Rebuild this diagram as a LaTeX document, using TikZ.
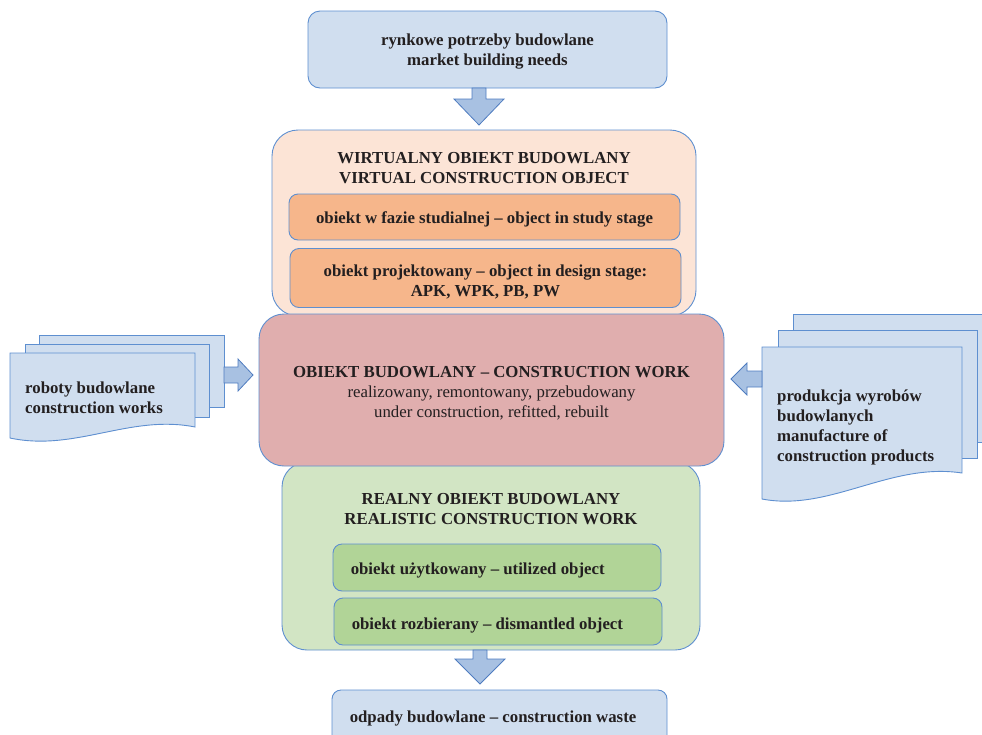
\documentclass[tikz,border=0pt]{standalone}
\usepackage{fontspec}
\setmainfont{Liberation Serif}
\usetikzlibrary{calc}

\definecolor{edgeblue}{HTML}{5E8FD0}
\definecolor{paleblue}{HTML}{D0DEEF}
\definecolor{arrowblue}{HTML}{A8C1E2}
\definecolor{arrowedge}{HTML}{4F7CC0}
\definecolor{peach}{HTML}{FCE4D6}
\definecolor{orangebox}{HTML}{F6B68B}
\definecolor{rosebox}{HTML}{E0AEAE}
\definecolor{palegreen}{HTML}{D2E5C4}
\definecolor{greenbox}{HTML}{B1D497}
\definecolor{ink}{HTML}{231F20}

\tikzset{
  box/.style={draw=edgeblue, line width=0.9pt, rectangle, inner sep=0pt},
  txt/.style={text=ink, inner sep=0pt, align=center,
    font=\fontsize{16.8}{20}\selectfont\bfseries},
  sheet/.style={draw=edgeblue, line width=0.9pt, fill=paleblue},
  blockarrow/.style={draw=arrowedge, line width=0.8pt, fill=arrowblue, line join=miter}
}

\begin{document}
\begin{tikzpicture}[x=1pt,y=-1pt]
\useasboundingbox (0,0) rectangle (982,734);

% market needs at the top
\node[box, fill=paleblue, rounded corners=12pt, minimum width=359pt, minimum height=77pt]
  (needs) at (487.5,49.5) {};
\node[txt] (needs-t) at ($(needs)+(0,2)$) {rynkowe potrzeby budowlane\\market building needs};

% virtual construction object
\node[box, fill=peach, rounded corners=26pt, minimum width=424pt, minimum height=186pt]
  (virtual) at (484,223) {};
\node[txt] (virtual-t) at (484,168)
  {WIRTUALNY OBIEKT BUDOWLANY\\VIRTUAL CONSTRUCTION OBJECT};
\node[box, fill=orangebox, rounded corners=9pt, minimum width=391pt, minimum height=46pt]
  (study) at (484.5,217) {};
\node[txt] (study-t) at ($(study)+(0,2)$) {obiekt w fazie studialnej – object in study stage};
\node[box, fill=orangebox, rounded corners=9pt, minimum width=391pt, minimum height=59pt]
  (design) at (485.5,278) {};
\node[txt] (design-t) at ($(design)+(0,3.5)$)
  {obiekt projektowany – object in design stage:\\APK, WPK, PB, PW};

% real construction work
\node[box, fill=palegreen, rounded corners=25pt, minimum width=418pt, minimum height=188pt]
  (real) at (491,556) {};
\node[txt] (real-t) at (491,509)
  {REALNY OBIEKT BUDOWLANY\\REALISTIC CONSTRUCTION WORK};
\node[box, fill=greenbox, rounded corners=9pt, minimum width=328pt, minimum height=47pt]
  (used) at (497,567.5) {};
\node[txt, anchor=west] (used-t) at ($(used.west)+(18,3)$) {obiekt użytkowany – utilized object};
\node[box, fill=greenbox, rounded corners=9pt, minimum width=328pt, minimum height=47pt]
  (dismantled) at (498,621.5) {};
\node[txt, anchor=west] (dismantled-t) at ($(dismantled.west)+(18,4)$)
  {obiekt rozbierany – dismantled object};

% construction work in the middle, on top of both
\node[box, fill=rosebox, rounded corners=25pt, minimum width=465pt, minimum height=152pt]
  (work) at (491.5,390) {};
\node[txt] (work-t) at ($(work)+(0,3)$)
  {OBIEKT BUDOWLANY – CONSTRUCTION WORK\\
   {\mdseries realizowany, remontowany, przebudowany}\\
   {\mdseries under construction, refitted, rebuilt}};

% construction waste at the bottom
\node[box, fill=paleblue, rounded corners=9pt, minimum width=335pt, minimum height=56pt]
  (waste) at (499.5,718) {};
\node[txt, anchor=west] (waste-t) at ($(waste.west)+(18,0)$)
  {odpady budowlane – construction waste};

% left stack of sheets
\draw[sheet] (39,335) rectangle (224,407);
\draw[sheet] (25,344) rectangle (209,417);
\draw[sheet] (10,353) -- (195,353) -- (195,427)
  .. controls (130,414) and (75,452) .. (10,438) -- cycle;
\node[txt, align=left, anchor=west] (works) at (25,398)
  {roboty budowlane\\construction works};

% right stack of sheets
\draw[sheet] (793,314) rectangle (1000,442);
\draw[sheet] (778,330) rectangle (977,458);
\draw[sheet] (762,347) -- (962,347) -- (962,473)
  .. controls (890,462) and (830,512) .. (762,499) -- cycle;
\node[txt, align=left, anchor=west] (products) at (777,427)
  {produkcja wyrobów\\budowlanych\\manufacture of\\construction products};

% block arrows
\draw[blockarrow] (472,88) -- (486,88) -- (486,99) -- (504,99) -- (479,125)
  -- (454,99) -- (472,99) -- cycle;
\draw[blockarrow] (473,650) -- (487,650) -- (487,659) -- (505,659) -- (480,684)
  -- (455,659) -- (473,659) -- cycle;
\draw[blockarrow] (224,367) -- (238,367) -- (238,359) -- (253,375) -- (238,391)
  -- (238,383) -- (224,383) -- cycle;
\draw[blockarrow] (762,371) -- (747,371) -- (747,363) -- (731,379) -- (747,395)
  -- (747,387) -- (762,387) -- cycle;
\end{tikzpicture}
\end{document}
